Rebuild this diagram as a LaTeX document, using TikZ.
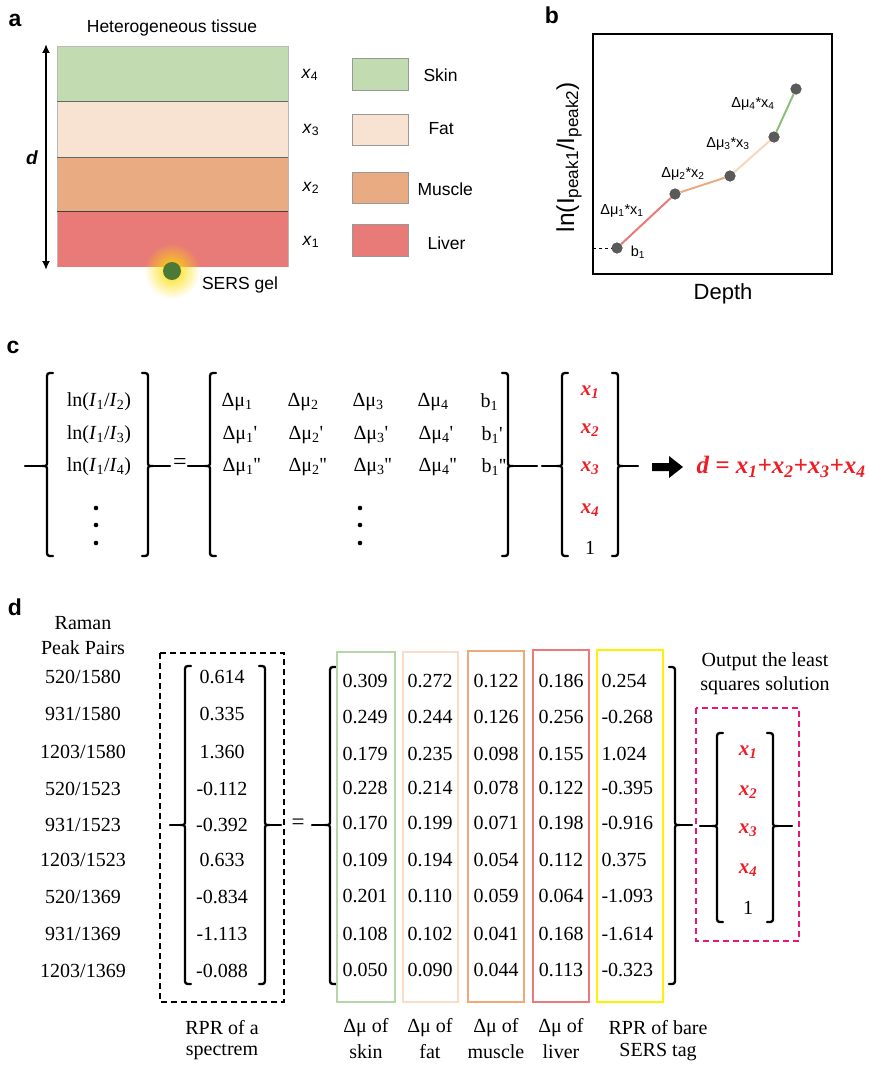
\documentclass[tikz,border=0pt]{standalone}
\usepackage{fontspec}
\setmainfont{Liberation Serif}
\setsansfont{Liberation Sans}
\usetikzlibrary{fadings,arrows.meta}
\tikzfading[name=glowfade, inner color=transparent!0, outer color=transparent!100]
\definecolor{skin}{HTML}{C3DBB1}
\definecolor{fat}{HTML}{F8E2D1}
\definecolor{muscle}{HTML}{E9AC82}
\definecolor{liver}{HTML}{E87B77}
\definecolor{skinln}{HTML}{B5D6A6}
\definecolor{fatln}{HTML}{FADCC9}
\definecolor{musln}{HTML}{EEA87A}
\definecolor{livln}{HTML}{EC7A78}
\definecolor{fatseg}{HTML}{F8D6BA}
\definecolor{skinseg}{HTML}{8CC07A}
\definecolor{yel}{HTML}{FFF200}
\definecolor{mag}{HTML}{E8157F}
\definecolor{redt}{HTML}{EE1C25}
\definecolor{dotg}{HTML}{5A5A5A}
\definecolor{gel}{HTML}{4A7A35}
\newcommand{\LBr}[5]{%
 \draw[brk] (#1+6,#2) .. controls (#1,#2) .. (#1,#2+6) -- (#1,#4-5) .. controls (#1,#4) .. (#1-5,#4) .. controls (#1,#4) .. (#1,#4+5) -- (#1,#3-6) .. controls (#1,#3) .. (#1+6,#3);
 \draw[brk] (#1-5,#4) -- (#5,#4);}
\newcommand{\RBr}[5]{%
 \draw[brk] (#1-6,#2) .. controls (#1,#2) .. (#1,#2+6) -- (#1,#4-5) .. controls (#1,#4) .. (#1+5,#4) .. controls (#1,#4) .. (#1,#4+5) -- (#1,#3-6) .. controls (#1,#3) .. (#1-6,#3);
 \draw[brk] (#1+5,#4) -- (#5,#4);}
\newcommand{\pr}{\textquotesingle}
\begin{document}
\begin{tikzpicture}[x=1pt,y=-1pt,
  plabel/.style={font=\sffamily\bfseries\fontsize{23}{26}\selectfont},
  sa/.style={font=\sffamily\fontsize{17.5}{20}\selectfont},
  sb/.style={font=\sffamily\fontsize{14.5}{17}\selectfont},
  tc/.style={font=\fontsize{20}{24}\selectfont},
  td/.style={font=\fontsize{20}{24}\selectfont},
  rx/.style={font=\fontsize{21}{24}\selectfont\bfseries\itshape, text=redt},
  brk/.style={line width=2.3, line cap=round},
  seg/.style={line width=2},
  pt/.style={circle, fill=dotg, minimum size=11, inner sep=0},
  colbox/.style={line width=1.5},
  dbox/.style={line width=1.5, dash pattern=on 6 off 4}]
\useasboundingbox (0,0) rectangle (869,1065);
% ---------- panel a ----------
\node[plabel] (la) at (15,20) {a};
\node[sa] (ht) at (172,28) {Heterogeneous tissue};
\fill[skin] (57,46) rectangle (288,101);
\fill[fat] (57,101) rectangle (288,157);
\fill[muscle] (57,157) rectangle (288,211);
\fill[liver] (57,211) rectangle (288,267);
\draw[gray!55, line width=0.8] (57,267) -- (57,46) -- (288,46) -- (288,267);
\draw[black!60, line width=0.8] (57,101) -- (288,101);
\draw[black!60, line width=0.8] (57,157) -- (288,157);
\draw[black!75, line width=0.8] (57,211) -- (288,211);
\coordinate (dtop) at (46,44);
\coordinate (dbot) at (46,270);
\draw[line width=2.2, {Latex[length=9,width=8]}-{Latex[length=9,width=8]}] (dtop) -- (dbot);
\node[font=\sffamily\bfseries\itshape\fontsize{19}{22}\selectfont] (dl) at (32,158) {d};
\fill[yellow!80!orange, path fading=glowfade] (172,271) circle (28);
\node[circle, fill=gel, minimum size=18, inner sep=0] (gelc) at (172,271) {};
\node[sa] (gt) at (240,285) {SERS gel};
% legend
\node[sa] (x4) at (310,75) {\textit{x}\textsubscript{4}};
\node[sa] (x3) at (311,130) {\textit{x}\textsubscript{3}};
\node[sa] (x2) at (311,188) {\textit{x}\textsubscript{2}};
\node[sa] (x1) at (311,242) {\textit{x}\textsubscript{1}};
\draw[gray!80, fill=skin] (352,58) rectangle (408,90);
\draw[gray!80, fill=fat] (352,114) rectangle (408,145);
\draw[gray!80, fill=muscle] (352,172) rectangle (408,203);
\draw[gray!80, fill=liver] (352,224) rectangle (408,256);
\node[sa, anchor=west] (lsk) at (420,75) {Skin};
\node[sa, anchor=west] (lft) at (425,129) {Fat};
\node[sa, anchor=west] (lms) at (414,189) {Muscle};
\node[sa, anchor=west] (llv) at (424,243) {Liver};
% ---------- panel b ----------
\node[plabel] (lb) at (552,15) {b};
\draw[line width=2] (593,34) rectangle (832,274);
\node[font=\sffamily\fontsize{24.5}{28}\selectfont, rotate=90] (ylab) at (569,157) {ln(I\textsubscript{peak1}/I\textsubscript{peak2})};
\node[font=\sffamily\fontsize{22}{26}\selectfont] (xlab) at (723,294) {Depth};
\coordinate (p0) at (593,248);
\node[pt] (p1) at (617,248) {};
\node[pt] (p2) at (675,194) {};
\node[pt] (p3) at (730,176) {};
\node[pt] (p4) at (774,137) {};
\node[pt] (p5) at (796,89) {};
\draw[dashed, line width=1] (p0) -- (p1);
\draw[seg, liver] (p1) -- (p2);
\draw[seg, muscle] (p2) -- (p3);
\draw[seg, fatseg] (p3) -- (p4);
\draw[seg, skinseg] (p4) -- (p5);
\node[pt] at (p1) {}; \node[pt] at (p2) {}; \node[pt] at (p3) {}; \node[pt] at (p4) {}; \node[pt] at (p5) {};
\node[sb] (bl1) at (638,252) {b\textsubscript{1}};
\node[sb] (m1) at (622,211) {Δμ\textsubscript{1}*x\textsubscript{1}};
\node[sb] (m2) at (683,174) {Δμ\textsubscript{2}*x\textsubscript{2}};
\node[sb] (m3) at (728,144) {Δμ\textsubscript{3}*x\textsubscript{3}};
\node[sb] (m4) at (753,104) {Δμ\textsubscript{4}*x\textsubscript{4}};
% ---------- panel c ----------
\node[plabel] (lc) at (13,347) {c};
\LBr{47}{373}{556}{466}{25}
\RBr{148}{373}{556}{466}{170}
\node[font=\fontsize{24}{28}\selectfont] (eqc) at (180,464) {=};
\LBr{210}{373}{556}{466}{188}
\RBr{508}{373}{556}{466}{537}
\LBr{562}{373}{556}{466}{542}
\RBr{618}{373}{556}{466}{638}
\node[tc] (c11) at (99,402) {ln(\textit{I}\textsubscript{1}/\textit{I}\textsubscript{2})};
\node[tc] (c12) at (99,435) {ln(\textit{I}\textsubscript{1}/\textit{I}\textsubscript{3})};
\node[tc] (c13) at (99,467) {ln(\textit{I}\textsubscript{1}/\textit{I}\textsubscript{4})};
\foreach \yy in {508,525,543}{\fill (96,\yy) circle (2.3); \fill (360,\yy) circle (2.3);}
\node[tc, anchor=west] (a11) at (218,402) {Δμ\textsubscript{1}};
\node[tc, anchor=west] (a12) at (284,402) {Δμ\textsubscript{2}};
\node[tc, anchor=west] (a13) at (349,402) {Δμ\textsubscript{3}};
\node[tc, anchor=west] (a14) at (414,402) {Δμ\textsubscript{4}};
\node[tc, anchor=west] (a15) at (477,402) {b\textsubscript{1}};
\node[tc, anchor=west] (a21) at (219,435) {Δμ\textsubscript{1}\pr};
\node[tc, anchor=west] (a22) at (285,435) {Δμ\textsubscript{2}\pr};
\node[tc, anchor=west] (a23) at (350,435) {Δμ\textsubscript{3}\pr};
\node[tc, anchor=west] (a24) at (415,435) {Δμ\textsubscript{4}\pr};
\node[tc, anchor=west] (a25) at (478,435) {b\textsubscript{1}\pr};
\node[tc, anchor=west] (a31) at (219,467) {Δμ\textsubscript{1}\pr\pr};
\node[tc, anchor=west] (a32) at (285,467) {Δμ\textsubscript{2}\pr\pr};
\node[tc, anchor=west] (a33) at (350,467) {Δμ\textsubscript{3}\pr\pr};
\node[tc, anchor=west] (a34) at (415,467) {Δμ\textsubscript{4}\pr\pr};
\node[tc, anchor=west] (a35) at (478,467) {b\textsubscript{1}\pr\pr};
\node[rx] (cx1) at (590,392) {x\textsubscript{1}};
\node[rx] (cx2) at (590,430) {x\textsubscript{2}};
\node[rx] (cx3) at (590,468) {x\textsubscript{3}};
\node[rx] (cx4) at (590,510) {x\textsubscript{4}};
\node[tc] (cx5) at (590,548) {1};
\fill (652,463) -- (669,463) -- (669,456) -- (683,467) -- (669,478) -- (669,471) -- (652,471) -- cycle;
\node[font=\fontsize{25}{28}\selectfont\bfseries\itshape, text=redt, anchor=west] (deq) at (693,467) {d = x\textsubscript{1}+x\textsubscript{2}+x\textsubscript{3}+x\textsubscript{4}};
% ---------- panel d ----------
\node[plabel] (ld) at (15,607) {d};
\node[td] (rm1) at (83,623) {Raman};
\node[td] (rm2) at (83,648) {Peak Pairs};
\foreach \yy/\lab in {677/{520/1580}, 714/{931/1580}, 752/{1203/1580}, 789/{520/1523}, 825/{931/1523}, 860/{1203/1523}, 897/{520/1369}, 934/{931/1369}, 971/{1203/1369}}{
  \node[td] at (83,\yy) {\lab};}
\draw[dbox] (160,653) rectangle (284,1002);
\LBr{185}{666}{984}{825}{170}
\RBr{265}{666}{984}{825}{281}
\foreach \v/\yy in {0.614/677, 0.335/714, 1.360/752, -0.112/789, -0.392/825, 0.633/860, -0.834/897, -1.113/934, -0.088/971}{
  \node[td] at (222,\yy) {\v};}
\node[font=\fontsize{23}{26}\selectfont] (eqd) at (298,824) {=};
\LBr{330}{667}{984}{825}{312}
\draw[colbox, skinln] (337,652) rectangle (395,1002);
\draw[colbox, fatln] (403,652) rectangle (458,1002);
\draw[colbox, musln] (468,651) rectangle (524,1002);
\draw[colbox, livln] (533,650) rectangle (589,1002);
\draw[colbox, yel] (597,650) rectangle (663,1002);
\foreach \a/\b/\c/\d/\e/\yy in {
 0.309/0.272/0.122/0.186/0.254/681,
 0.249/0.244/0.126/0.256/-0.268/717,
 0.179/0.235/0.098/0.155/1.024/754,
 0.228/0.214/0.078/0.122/-0.395/788,
 0.170/0.199/0.071/0.198/-0.916/823,
 0.109/0.194/0.054/0.112/0.375/860,
 0.201/0.110/0.059/0.064/-1.093/896,
 0.108/0.102/0.041/0.168/-1.614/934,
 0.050/0.090/0.044/0.113/-0.323/970}{
  \node[td] at (365,\yy) {\a};
  \node[td] at (430,\yy) {\b};
  \node[td] at (496,\yy) {\c};
  \node[td] at (561,\yy) {\d};
  \node[td, anchor=west] at (598,\yy) {\e};}
\RBr{675}{667}{984}{825}{692}
\node[td] (out1) at (765,662) {Output the least};
\node[td] (out2) at (765,686) {squares solution};
\draw[dbox, mag] (696,708) rectangle (799,941);
\LBr{717}{733}{922}{826}{700}
\RBr{773}{733}{922}{826}{792}
\node[rx] (dx1) at (748,752) {x\textsubscript{1}};
\node[rx] (dx2) at (748,792) {x\textsubscript{2}};
\node[rx] (dx3) at (748,830) {x\textsubscript{3}};
\node[rx] (dx4) at (748,870) {x\textsubscript{4}};
\node[td] (dx5) at (748,908) {1};
\node[td] (b1a) at (222,1028) {RPR of a};
\node[td] (b1b) at (222,1052) {spectrem};
\node[td] (b2a) at (366,1028) {Δμ of};
\node[td] (b2b) at (366,1052) {skin};
\node[td] (b3a) at (430,1028) {Δμ of};
\node[td] (b3b) at (430,1052) {fat};
\node[td] (b4a) at (496,1028) {Δμ of};
\node[td] (b4b) at (496,1052) {muscle};
\node[td] (b5a) at (561,1028) {Δμ of};
\node[td] (b5b) at (561,1052) {liver};
\node[td] (b6a) at (658,1028) {RPR of bare};
\node[td] (b6b) at (658,1052) {SERS tag};
\end{tikzpicture}
\end{document}
